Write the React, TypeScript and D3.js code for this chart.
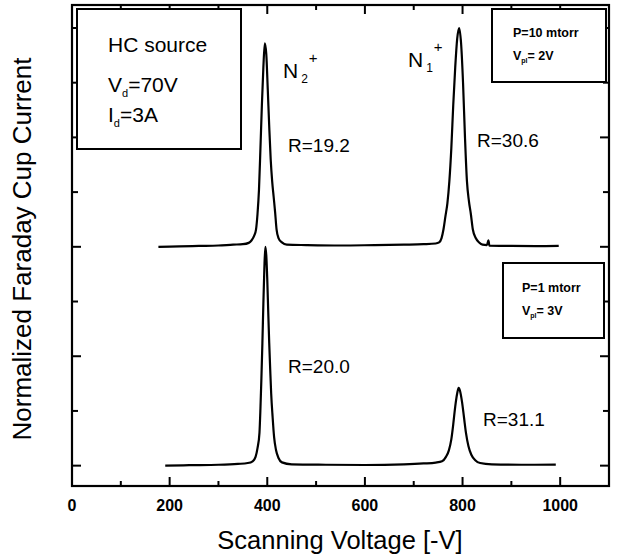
import { useEffect, useRef } from "react";
import * as d3 from "d3";

// scanning voltage [V] vs normalized current
const upperTrace: [number, number][] = [
  [177, 0.0], [220, 0.002], [260, 0.004], [300, 0.006], [330, 0.01], [350, 0.012],
  [362, 0.018], [368, 0.03], [373, 0.05], [377, 0.08], [380, 0.15], [383, 0.26],
  [386, 0.45], [389, 0.65], [392, 0.82], [395, 0.93], [398, 0.88], [401, 0.72],
  [404, 0.55], [407, 0.4], [410, 0.3], [413, 0.23], [416, 0.16], [419, 0.08],
  [423, 0.04], [430, 0.02], [440, 0.01], [480, 0.008], [550, 0.006], [620, 0.008],
  [680, 0.01], [720, 0.012], [745, 0.015], [752, 0.02], [757, 0.04], [761, 0.08],
  [765, 0.14], [769, 0.2], [773, 0.3], [777, 0.45], [781, 0.65], [785, 0.82],
  [789, 0.95], [793, 1.0], [797, 0.93], [801, 0.75], [805, 0.5], [809, 0.3],
  [813, 0.21], [817, 0.15], [821, 0.08], [827, 0.04], [834, 0.02], [841, 0.01],
  [850, 0.008], [853, 0.03], [855, 0.005], [900, 0.004], [950, 0.003], [997, 0.004],
];

const lowerTrace: [number, number][] = [
  [191, 0.0], [240, 0.002], [300, 0.004], [340, 0.008], [360, 0.012], [370, 0.02],
  [376, 0.04], [380, 0.08], [384, 0.15], [386, 0.26], [388, 0.4], [390, 0.56],
  [392, 0.74], [394, 0.9], [396, 1.0], [398, 0.96], [400, 0.85], [402, 0.7],
  [404, 0.56], [406, 0.44], [408, 0.33], [411, 0.22], [414, 0.13], [418, 0.07],
  [423, 0.035], [430, 0.015], [450, 0.006], [520, 0.004], [600, 0.003], [680, 0.006],
  [720, 0.01], [745, 0.014], [758, 0.02], [766, 0.04], [772, 0.07], [777, 0.12],
  [781, 0.19], [785, 0.27], [789, 0.33], [792, 0.355], [795, 0.34], [799, 0.29],
  [803, 0.22], [807, 0.15], [812, 0.09], [818, 0.05], [826, 0.025], [836, 0.012],
  [860, 0.006], [920, 0.004], [991, 0.005],
];

const traceOffsets = [1.0, 0.0];
const xDomain = [0, 1100];
const yDomain = [-0.093, 2.105];
const xMajorTicks = [0, 200, 400, 600, 800, 1000];
const xMinorTicks = [100, 300, 500, 700, 900];
const yMajorTicks = [0, 0.5, 1.0, 1.5, 2.0];
const yMinorTicks = [0.25, 0.75, 1.25, 1.75];
const rLabels = ["R=19.2", "R=30.6", "R=20.0", "R=31.1"];

const FONT = "'Liberation Sans', Arial, sans-serif";

export default function App() {
  const svgRef = useRef<SVGSVGElement>(null);

  useEffect(() => {
    const width = 617;
    const height = 557;
    const svg = d3.select(svgRef.current);
    svg.selectAll("*").remove();
    svg.attr("width", width).attr("height", height);

    const x = d3.scaleLinear().domain(xDomain).range([72, 609]);
    const y = d3.scaleLinear().domain(yDomain).range([486, 5]);
    const [x0, x1] = xDomain.map(x);
    const [yBot, yTop] = yDomain.map(y);

    const g = svg.append("g").attr("font-family", FONT).attr("fill", "#000");

    // traces
    const line = d3
      .line<[number, number]>()
      .x((d) => x(d[0]))
      .curve(d3.curveMonotoneX);
    [upperTrace, lowerTrace].forEach((trace, i) => {
      g.append("path")
        .attr("fill", "none")
        .attr("stroke", "#000")
        .attr("stroke-width", 2.2)
        .attr("stroke-linejoin", "round")
        .attr("d", line.y((d) => y(d[1] + traceOffsets[i]))(trace));
    });

    // frame
    g.append("rect")
      .attr("x", x0)
      .attr("y", yTop)
      .attr("width", x1 - x0)
      .attr("height", yBot - yTop)
      .attr("fill", "none")
      .attr("stroke", "#000")
      .attr("stroke-width", 2.2);

    // inward ticks on all four sides
    const tick = (ax: number, ay: number, bx: number, by: number) =>
      g.append("line")
        .attr("x1", ax).attr("y1", ay).attr("x2", bx).attr("y2", by)
        .attr("stroke", "#000").attr("stroke-width", 2);
    xMajorTicks.forEach((v) => {
      tick(x(v), yBot, x(v), yBot - 9);
      tick(x(v), yTop, x(v), yTop + 9);
    });
    xMinorTicks.forEach((v) => {
      tick(x(v), yBot, x(v), yBot - 5);
      tick(x(v), yTop, x(v), yTop + 5);
    });
    yMajorTicks.forEach((v) => {
      tick(x0, y(v), x0 + 9, y(v));
      tick(x1, y(v), x1 - 9, y(v));
    });
    yMinorTicks.forEach((v) => {
      tick(x0, y(v), x0 + 6, y(v));
      tick(x1, y(v), x1 - 6, y(v));
    });

    g.selectAll(".xlab")
      .data(xMajorTicks)
      .join("text")
      .attr("x", (d) => x(d))
      .attr("y", 511)
      .attr("text-anchor", "middle")
      .attr("font-size", 16)
      .attr("font-weight", "bold")
      .text((d) => d);

    g.append("text")
      .attr("x", 340)
      .attr("y", 549)
      .attr("text-anchor", "middle")
      .attr("font-size", 25.5)
      .text("Scanning Voltage [-V]");

    g.append("text")
      .attr("transform", "translate(31,249) rotate(-90)")
      .attr("text-anchor", "middle")
      .attr("font-size", 26)
      .text("Normalized Faraday Cup Current");

    // info boxes
    const box = (bx: number, by: number, bw: number, bh: number) =>
      g.append("rect")
        .attr("x", bx).attr("y", by).attr("width", bw).attr("height", bh)
        .attr("fill", "#fff").attr("stroke", "#000").attr("stroke-width", 2);
    box(77, 9, 164, 140);
    box(492, 9, 114, 73);
    box(503, 263, 101, 75);

    g.append("text").attr("x", 108).attr("y", 52).attr("font-size", 21).text("HC source");
    const sub = (tx: number, ty: number, main: string, s: string, rest: string, fs: number, ss: number, bold = false) => {
      const t = g.append("text").attr("x", tx).attr("y", ty).attr("font-size", fs)
        .attr("font-weight", bold ? "bold" : "normal");
      t.append("tspan").text(main);
      t.append("tspan").attr("font-size", ss).attr("dy", fs * 0.25).text(s);
      t.append("tspan").attr("dy", -fs * 0.25).text(rest);
    };
    sub(108, 92, "V", "d", "=70V", 21, 11);
    sub(108, 122, "I", "d", "=3A", 21, 11);

    g.append("text").attr("x", 513).attr("y", 37).attr("font-size", 12.5)
      .attr("font-weight", "bold").text("P=10 mtorr");
    sub(513, 60, "V", "pl", "= 2V", 12.5, 7, true);
    g.append("text").attr("x", 522).attr("y", 292).attr("font-size", 12.5)
      .attr("font-weight", "bold").text("P=1 mtorr");
    sub(522, 315, "V", "pl", "= 3V", 12.5, 7, true);

    // ion labels
    const ion = (tx: number, ty: number, s: string) => {
      const t = g.append("text").attr("x", tx).attr("y", ty).attr("font-size", 21);
      t.append("tspan").text("N");
      t.append("tspan").attr("font-size", 12).attr("dx", 3).attr("dy", 5).text(s);
      t.append("tspan").attr("font-size", 15).attr("dx", 1).attr("dy", -20).text("+");
    };
    ion(283, 78, "2");
    ion(408, 67, "1");

    const rPos: [number, number][] = [[288, 152], [477, 147], [288, 373], [483, 426]];
    rLabels.forEach((r, i) => {
      g.append("text").attr("x", rPos[i][0]).attr("y", rPos[i][1])
        .attr("font-size", 19).text(r);
    });
  }, []);

  return (
    <svg
      ref={svgRef}
      style={{ position: "absolute", left: 0, top: 0, background: "#fff" }}
    />
  );
}
